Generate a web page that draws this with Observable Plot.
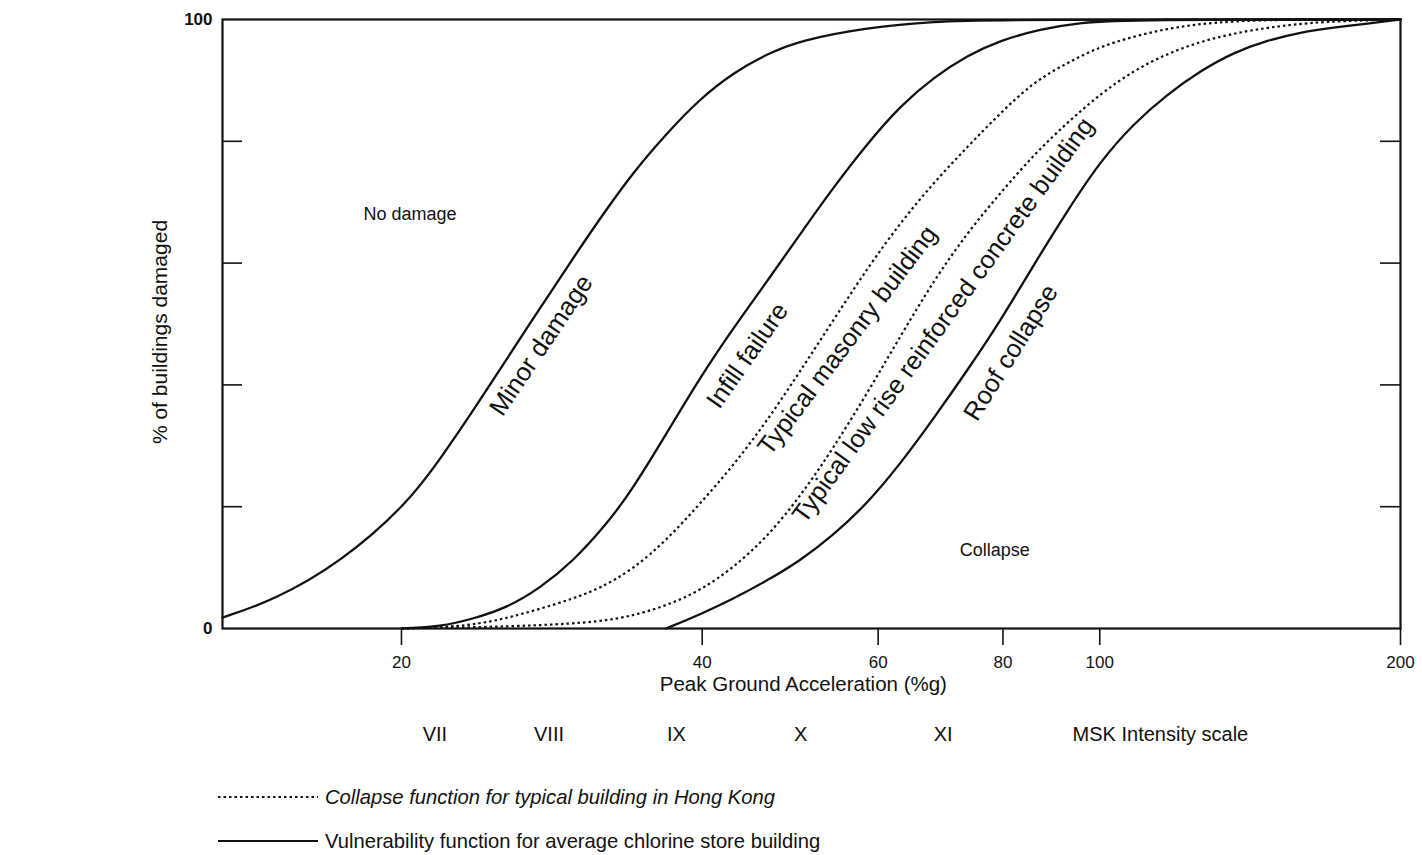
<!DOCTYPE html>
<html>
<head>
<meta charset="utf-8">
<script src="https://cdn.jsdelivr.net/npm/d3@7"></script>
<script src="https://cdn.jsdelivr.net/npm/@observablehq/plot@0.6"></script>
<style>
  body { margin: 0; background: #fff; font-family: "Liberation Sans", Arial, sans-serif; }
  #wrap { width: 1422px; height: 855px; overflow: hidden; background: #fff; }
  #legend text { font-family: "Liberation Sans", Arial, sans-serif; fill: #111; }
</style>
</head>
<body>
<div id="wrap"><div id="chart"></div><div id="legendbox"></div></div>
<script>
// ---- Data (x: peak ground acceleration %g, y: % of buildings damaged) ----
const minorX = [13.24, 14.89, 17.38, 20.28, 21.88, 23.6, 25.5, 27.5, 29.7, 31.6, 34.1, 36.9, 39.8, 43.0, 46.5, 50.2, 58.5, 68.2, 79.6, 200];
const minorY = [1.8, 4.6, 10.8, 20.5, 27.9, 35.8, 44.3, 52.5, 60.8, 67.3, 74.9, 81.4, 87.0, 91.3, 94.4, 96.6, 98.7, 99.7, 100, 100];

const infillX = [20, 21.88, 23.6, 25.5, 27.5, 29.7, 32.2, 34.1, 36.9, 39.8, 43.0, 46.5, 50.2, 54.1, 58.5, 63.2, 68.2, 73.7, 79.6, 87.2, 95.6, 107, 200];
const infillY = [0, 0.3, 1.6, 3.4, 6.6, 11.0, 17.4, 23.0, 32.2, 41.2, 49.4, 57.1, 64.9, 72.4, 79.6, 85.9, 90.5, 94.1, 96.6, 98.4, 99.5, 100, 100];

const masonryX = [20, 21.88, 23.6, 25.5, 27.5, 29.7, 31.6, 34.1, 36.9, 39.8, 43.0, 46.5, 50.2, 54.1, 58.5, 63.2, 68.2, 73.7, 79.6, 85.8, 92.8, 100.2, 108.1, 116.8, 126.2, 136.2, 151.8, 200];
const masonryY = [0, 0.2, 0.6, 1.7, 3.2, 4.9, 6.6, 9.7, 14.6, 20.5, 26.8, 34.2, 42.4, 50.6, 59.1, 66.7, 73.2, 79.1, 84.7, 89.7, 92.9, 95.6, 97.2, 98.5, 99.3, 99.7, 100, 100];

const rcX = [20, 23.6, 27.5, 31.6, 34.1, 36.9, 39.8, 43.0, 46.5, 50.2, 54.1, 58.5, 63.2, 68.2, 73.7, 79.6, 85.8, 92.8, 100.2, 108.1, 116.8, 126.2, 136.2, 147.3, 166.7, 200];
const rcY = [0, 0.2, 0.5, 1.1, 2.1, 3.8, 6.2, 10.0, 15.1, 21.8, 29.6, 38.6, 48.1, 57.1, 65.0, 71.6, 77.7, 83.1, 87.8, 91.6, 94.4, 96.4, 97.7, 98.7, 99.7, 100];

const roofX = [36.8, 39.8, 43.0, 46.5, 50.2, 54.1, 58.5, 63.2, 68.2, 73.7, 79.6, 85.8, 92.8, 100.2, 108.1, 116.8, 126.2, 136.2, 147.3, 158.8, 171.4, 185.4, 200];
const roofY = [0, 2.3, 4.9, 7.9, 11.2, 15.3, 20.5, 27.1, 34.5, 42.4, 50.6, 59.6, 68.6, 76.8, 82.9, 87.7, 91.6, 94.6, 96.6, 97.9, 98.7, 99.3, 100];

// Curve labels
const curveLabelText = ["Minor damage", "Infill failure", "Typical masonry building", "Typical low rise reinforced concrete building", "Roof collapse"];
const curveLabelX = [27.6, 44.4, 55.9, 69.7, 81.5];
const curveLabelY = [46.5, 44.8, 47.3, 50.6, 45.3];
const curveLabelAngle = [-56, -55, -53, -54, -58];

// Region labels
const regionText = ["No damage", "Collapse"];
const regionX = [20.4, 78.5];
const regionY = [68.1, 12.8];

// Axes
const xTicks = [20, 40, 60, 80, 100, 200];
const yLabelTicks = [0, 100];
const yTickMarks = [20, 40, 60, 80];

// MSK intensity scale (positioned at the equivalent PGA)
const mskText = ["VII", "VIII", "IX", "X", "XI", "MSK Intensity scale"];
const mskX = [21.6, 28.1, 37.7, 50.2, 69.7, 115];

// Legend
const legendText = ["Collapse function for typical building in Hong Kong", "Vulnerability function for average chlorine store building"];
const legendDash = ["2.5,3", null];

// ---- Build tables ----
const toRows = (xs, ys) => xs.map((x, i) => ({x, y: ys[i]}));
const solid = [toRows(minorX, minorY), toRows(infillX, infillY), toRows(roofX, roofY)];
const dashed = [toRows(masonryX, masonryY), toRows(rcX, rcY)];
const curveLabels = curveLabelText.map((t, i) => ({t, x: curveLabelX[i], y: curveLabelY[i], a: curveLabelAngle[i]}));
const regions = regionText.map((t, i) => ({t, x: regionX[i], y: regionY[i]}));
const msk = mskText.map((t, i) => ({t, x: mskX[i]}));

const ink = "#111";
const plot = Plot.plot({
  width: 1422,
  height: 770,
  marginLeft: 222,
  marginRight: 22,
  marginTop: 19,
  marginBottom: 142,
  style: {fontFamily: "Liberation Sans, Arial, sans-serif", background: "#fff", color: ink, overflow: "visible"},
  x: {type: "log", domain: [13.24, 200]},
  y: {domain: [0, 100]},
  marks: [
    Plot.frame({stroke: ink, strokeWidth: 2.2}),
    Plot.tickY(yTickMarks, {y: d => d, insetRight: 1158, stroke: ink, strokeWidth: 1.6}),
    Plot.tickY(yTickMarks, {y: d => d, insetLeft: 1158, stroke: ink, strokeWidth: 1.6}),
    Plot.axisY({ticks: yLabelTicks, tickSize: 0, tickPadding: 10, fontSize: 17, fontWeight: "bold", label: null}),
    Plot.axisX({ticks: xTicks, tickSize: 17, tickPadding: 10, fontSize: 17, label: null, tickFormat: d => String(d), strokeWidth: 1.6}),
    ...solid.map(rows => Plot.line(rows, {x: "x", y: "y", curve: "basis", stroke: ink, strokeWidth: 2.3})),
    ...dashed.map(rows => Plot.line(rows, {x: "x", y: "y", curve: "basis", stroke: ink, strokeWidth: 2.2, strokeDasharray: "2.5,3", strokeLinecap: "butt"})),
    Plot.text(curveLabels, {x: "x", y: "y", text: "t", rotate: "a", fontSize: 25.5, fill: ink, textAnchor: "middle", lineAnchor: "middle"}),
    Plot.text(regions, {x: "x", y: "y", text: "t", fontSize: 18, fill: ink, fontStyle: (d, i) => i === 0 ? "italic" : "normal"}),
    Plot.text(["% of buildings damaged"], {frameAnchor: "left", dx: -62, dy: 8, rotate: -90, textAnchor: "middle", fontSize: 21, fill: ink}),
    Plot.text(["Peak Ground Acceleration (%g)"], {x: [50.5], frameAnchor: "bottom", dy: 62, fontSize: 20.5, fill: ink}),
    Plot.text(msk, {x: "x", text: "t", frameAnchor: "bottom", dy: 112, fontSize: 20, fill: ink})
  ]
});
document.getElementById("chart").appendChild(plot);

// ---- Legend below the chart ----
const lsvg = d3.select("#legendbox").append("svg").attr("id", "legend").attr("width", 1422).attr("height", 85);
const items = lsvg.selectAll("g").data(legendText).join("g").attr("transform", (d, i) => `translate(0,${27 + i * 44})`);
items.append("line").attr("x1", 218).attr("x2", 318).attr("stroke", ink)
  .attr("stroke-width", (d, i) => i === 0 ? 2.2 : 1.8)
  .attr("stroke-dasharray", (d, i) => legendDash[i]);
items.append("text").attr("x", 325).attr("dy", "0.35em").attr("font-size", 20.2)
  .attr("font-style", (d, i) => i === 0 ? "italic" : "normal").text(d => d);
</script>
</body>
</html>
